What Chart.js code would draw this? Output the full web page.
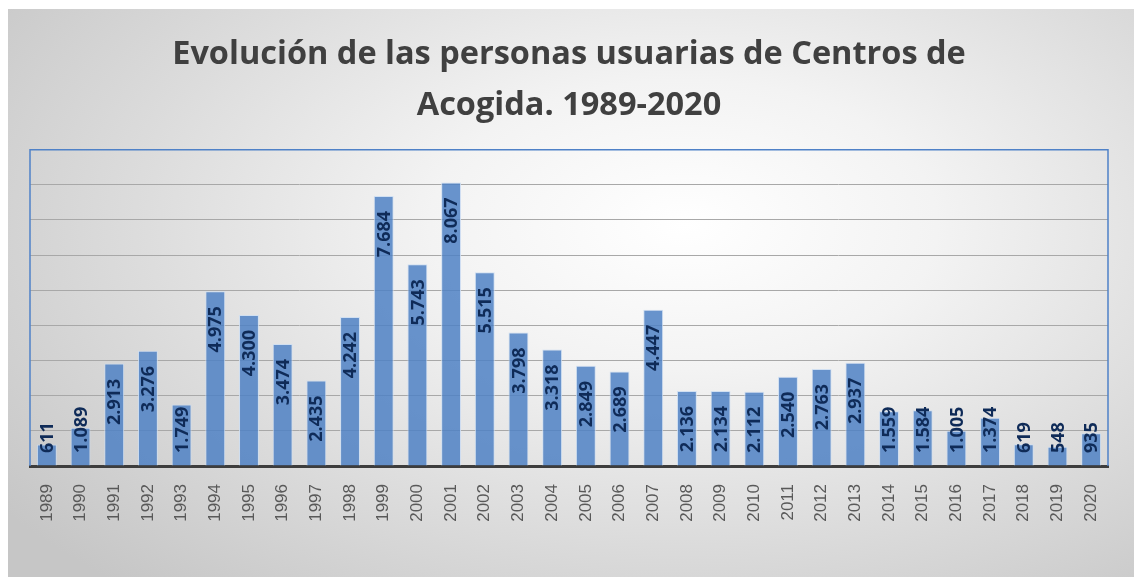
<!DOCTYPE html>
<html>
<head>
<meta charset="utf-8">
<script src="https://cdn.jsdelivr.net/npm/chart.js@4/dist/chart.umd.min.js"></script>
<style>
  html, body { margin:0; padding:0; background:#ffffff; width:1134px; height:577px; overflow:hidden; }
  #wrap {
    position:absolute; left:8px; top:9px; width:1126px; height:568px;
    background: radial-gradient(ellipse 75% 85% at 60% 38%, #ffffff 0%, #f3f3f3 30%, #dcdcdc 65%, #c6c6c6 100%);
  }
  canvas { display:block; }
</style>
</head>
<body>
<div id="wrap"><canvas id="c"></canvas></div>
<script>
const years = ['1989','1990','1991','1992','1993','1994','1995','1996','1997','1998','1999','2000','2001','2002','2003','2004','2005','2006','2007','2008','2009','2010','2011','2012','2013','2014','2015','2016','2017','2018','2019','2020'];
const usuarios = [611,1089,2913,3276,1749,4975,4300,3474,2435,4242,7684,5743,8067,5515,3798,3318,2849,2689,4447,2136,2134,2112,2540,2763,2937,1559,1584,1005,1374,619,548,935];
const titleLines = ['Evolución de las personas usuarias de Centros de', 'Acogida. 1989-2020'];
const yMax = 9000;
const yStep = 1000;

function fmt(v) {
  return String(v).replace(/\B(?=(\d{3})+(?!\d))/g, '.');
}

const plotBorder = {
  id: 'plotBorder',
  beforeDatasetsDraw(chart) {
    const {ctx, chartArea: a} = chart;
    ctx.save();
    ctx.strokeStyle = '#4f81c7';
    ctx.lineWidth = 1.5;
    ctx.beginPath();
    ctx.moveTo(a.left, a.bottom);
    ctx.lineTo(a.left, a.top);
    ctx.lineTo(a.right, a.top);
    ctx.lineTo(a.right, a.bottom);
    ctx.stroke();
    ctx.restore();
  }
};

const barLabels = {
  id: 'barLabels',
  afterDatasetsDraw(chart) {
    const {ctx} = chart;
    const meta = chart.getDatasetMeta(0);
    const base = chart.scales.y.getPixelForValue(0);
    ctx.save();
    ctx.font = 'bold 18px "Open Sans"';
    ctx.fillStyle = '#0f2b58';
    ctx.textAlign = 'right';
    ctx.textBaseline = 'middle';
    meta.data.forEach((bar, i) => {
      const txt = fmt(chart.data.datasets[0].data[i]);
      const w = ctx.measureText(txt).width;
      const top = Math.min(bar.y + 15, base - 13 - w);
      ctx.save();
      ctx.translate(bar.x + 1, top);
      ctx.rotate(-Math.PI / 2);
      ctx.fillText(txt, 0, 0);
      ctx.restore();
    });
    ctx.restore();
  }
};

new Chart(document.getElementById('c'), {
  type: 'bar',
  data: {
    labels: years,
    datasets: [{
      data: usuarios,
      backgroundColor: 'rgba(79,129,196,0.85)',
      borderColor: 'rgba(205,222,242,0.9)',
      borderWidth: 1,
      barPercentage: 0.59,
      categoryPercentage: 1.0
    }]
  },
  options: {
    responsive: true,
    maintainAspectRatio: false,
    animation: false,
    events: [],
    layout: { padding: { left: 22, right: 26, top: 0, bottom: 0 } },
    plugins: {
      legend: { display: false },
      tooltip: { enabled: false },
      title: {
        display: true,
        text: titleLines,
        color: '#404040',
        font: { family: '"Open Sans"', size: 32.5, weight: 'bold', lineHeight: 1.58 },
        padding: { top: 20, bottom: 18 }
      }
    },
    scales: {
      x: {
        grid: { display: false, drawTicks: false },
        border: { display: true, color: '#3d3d3d', width: 3 },
        ticks: {
          color: '#595959',
          font: { family: '"Liberation Sans"', size: 17 },
          minRotation: 90,
          maxRotation: 90,
          autoSkip: false,
          padding: 18
        },
        afterFit(scale) { scale.height = 111; }
      },
      y: {
        min: 0,
        max: yMax,
        ticks: { display: false, stepSize: yStep },
        grid: { color: '#a8a8a8', lineWidth: 1, drawTicks: false },
        border: { display: false },
        afterFit(scale) { scale.width = 0; }
      }
    }
  },
  plugins: [plotBorder, barLabels]
});
</script>
</body>
</html>
